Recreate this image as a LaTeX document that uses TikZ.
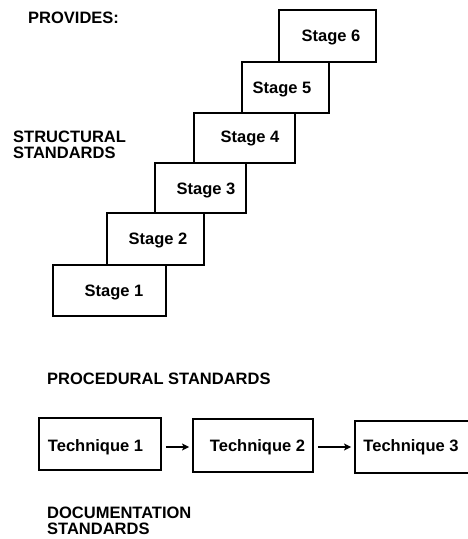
\documentclass[tikz,border=0pt]{standalone}
\usepackage{fontspec}
\setmainfont{Liberation Sans}
\usetikzlibrary{arrows.meta}
\begin{document}
\begin{tikzpicture}[x=1pt,y=-1pt,
  box/.style={draw, line width=1.8pt, inner sep=0pt},
  txt/.style={font=\fontsize{16.5}{16}\selectfont\bfseries, inner sep=0pt},
  heading/.style={txt, anchor=north west, align=left},
  link/.style={line width=1.6pt, -{Stealth[length=7pt,width=7pt,inset=1.5pt]}}]
\useasboundingbox (0,0) rectangle (468,539);

% headings
\node[heading] (provides) at (28,12) {PROVIDES:};
\node[heading] (structural) at (13,131) {STRUCTURAL\\STANDARDS};
\node[heading] (procedural) at (47,373) {PROCEDURAL STANDARDS};
\node[heading] (documentation) at (47,507) {DOCUMENTATION\\STANDARDS};

% staircase of stages
\node[box, minimum width=97pt,  minimum height=52pt] (s6) at (327.5,36) {};
\node[box, minimum width=87pt,  minimum height=51pt] (s5) at (285.5,87.5) {};
\node[box, minimum width=101pt, minimum height=50pt] (s4) at (244.5,138) {};
\node[box, minimum width=91pt,  minimum height=50pt] (s3) at (200.5,188) {};
\node[box, minimum width=97pt,  minimum height=52pt] (s2) at (155.5,239) {};
\node[box, minimum width=113pt, minimum height=51pt] (s1) at (109.5,290.5) {};

\node[txt] (l6) at (331,37) {Stage 6};
\node[txt] (l5) at (282,89) {Stage 5};
\node[txt] (l4) at (250,138) {Stage 4};
\node[txt] (l3) at (206,190) {Stage 3};
\node[txt] (l2) at (158,240) {Stage 2};
\node[txt] (l1) at (114,292) {Stage 1};

% chain of techniques (the last box runs past the right margin)
\node[box, minimum width=122pt, minimum height=52pt] (k1) at (100,444) {};
\node[box, minimum width=120pt, minimum height=53pt] (k2) at (253,445.5) {};
\node[box, minimum width=125pt, minimum height=52pt] (k3) at (417.5,447) {};

\node[txt] (t1) at (95.5,447) {Technique 1};
\node[txt] (t2) at (257.5,447) {Technique 2};
\node[txt] (t3) at (411,447) {Technique 3};

\draw[link, shorten <=4pt, shorten >=3pt] (k1.east |- t1.center) -- (k2.west |- t1.center);
\draw[link, shorten <=4pt, shorten >=3pt] (k2.east |- t2.center) -- (k3.west |- t2.center);
\end{tikzpicture}
\end{document}
